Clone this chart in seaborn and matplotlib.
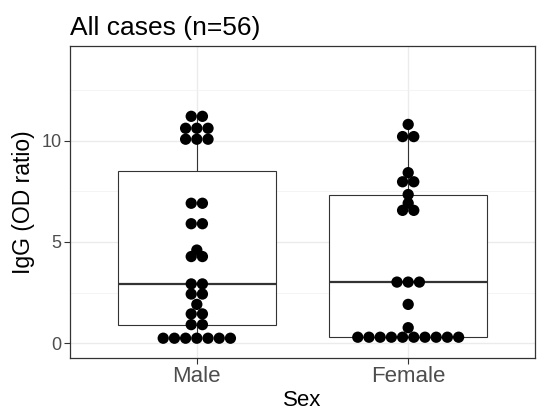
import numpy as np
import pandas as pd
import matplotlib
matplotlib.use("Agg")
import matplotlib.pyplot as plt
import seaborn as sns

# ---- data ----
sex_levels = ["Male", "Female"]
male_igg = [0.25, 0.25, 0.25, 0.25, 0.25, 0.25, 0.25,
            0.92, 0.92, 1.45, 1.45, 1.92, 2.43, 2.43, 2.93, 2.93,
            4.28, 4.28, 4.60, 5.90, 5.90, 6.91, 6.91,
            10.07, 10.07, 10.07, 10.61, 10.61, 10.61, 11.20, 11.20]
female_igg = [0.30, 0.30, 0.30, 0.30, 0.30, 0.30, 0.30, 0.30, 0.30, 0.30,
              0.77, 1.92, 3.02, 3.02, 3.02,
              6.56, 6.56, 6.91, 7.34, 7.97, 7.97, 8.42,
              10.20, 10.20, 10.80]
title_text = "All cases (n=56)"
y_label = "IgG (OD ratio)"
x_label = "Sex"
y_major = [0, 5, 10]
y_minor = [2.5, 7.5, 12.5]

df = pd.DataFrame({
    "Sex": ["Male"] * len(male_igg) + ["Female"] * len(female_igg),
    "IgG": male_igg + female_igg,
})

# dot-plot style horizontal stacking (centered) computed from the data
dot_step = 0.053
df["pos"] = df["Sex"].map({s: i for i, s in enumerate(sex_levels)})
df["rank"] = df.groupby(["Sex", "IgG"]).cumcount()
df["n"] = df.groupby(["Sex", "IgG"])["IgG"].transform("size")
df["xdot"] = df["pos"] + (df["rank"] - (df["n"] - 1) / 2) * dot_step

sns.set_theme(style="white")
plt.rcParams["font.family"] = ["Liberation Sans", "DejaVu Sans"]

fig = plt.figure(figsize=(5.43, 4.18), dpi=100)
ax = fig.add_axes([70 / 543, 1 - 358 / 418, 465 / 543, 312 / 418])

sns.boxplot(data=df, x="Sex", y="IgG", order=sex_levels, ax=ax,
            width=0.75, color="white", linecolor="#333333", linewidth=0.8,
            showcaps=False, showfliers=False, whis=1.5,
            medianprops={"linewidth": 1.6, "color": "#333333"},
            zorder=2)

sns.scatterplot(data=df, x="xdot", y="IgG", ax=ax, color="black", s=66,
                edgecolor="none", linewidth=0, legend=False, zorder=3)

ax.set_xlim(-0.6, 1.6)
ax.set_ylim(-0.726, 14.67)
ax.set_xticks([0, 1])
ax.set_xticklabels(sex_levels)
ax.set_yticks(y_major)
ax.set_yticks(y_minor, minor=True)

ax.grid(True, which="major", color="#ebebeb", linewidth=1.0, zorder=0)
ax.grid(True, which="minor", axis="y", color="#f2f2f2", linewidth=0.6, zorder=0)
ax.set_axisbelow(True)

for sp in ax.spines.values():
    sp.set_visible(True)
    sp.set_color("#333333")
    sp.set_linewidth(0.9)

ax.tick_params(axis="both", which="major", direction="out", length=4,
               width=0.8, color="#333333", labelcolor="#4d4d4d")
ax.tick_params(axis="y", which="major", labelsize=13, pad=2)
ax.tick_params(axis="x", which="major", labelsize=16, pad=2)
ax.tick_params(axis="both", which="minor", length=0)
ax.tick_params(left=True, bottom=True)

ax.set_xlabel(x_label, fontsize=16, color="black", labelpad=2)
ax.set_ylabel(y_label, fontsize=16.5, color="black", labelpad=5)
ax.set_title(title_text, fontsize=19, loc="left", color="black", pad=8)

fig.savefig("out.png", dpi=100)
